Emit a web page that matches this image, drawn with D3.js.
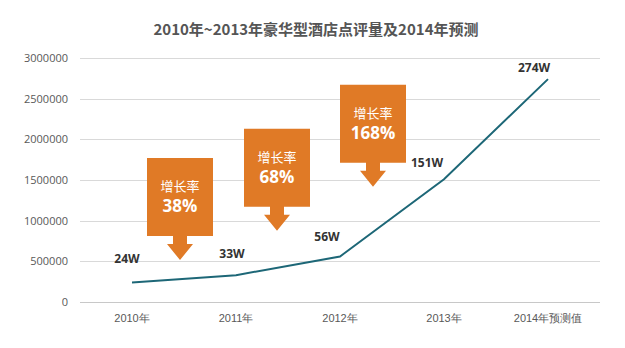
<!DOCTYPE html>
<html><head><meta charset="utf-8">
<script src="https://cdn.jsdelivr.net/npm/d3@7"></script>
<style>
body{margin:0;background:#fff;}
svg{display:block;font-family:"Noto Sans CJK SC","Open Sans",sans-serif;}
</style></head>
<body><svg id="c" width="625" height="348"></svg>
<script>
const title = "2010年~2013年豪华型酒店点评量及2014年预测";
const categories = ["2010年","2011年","2012年","2013年","2014年预测值"];
const values = [240000, 330000, 560000, 1510000, 2740000];
const valueLabels = ["24W","33W","56W","151W","274W"];
const yTicks = [0,500000,1000000,1500000,2000000,2500000,3000000];
const growthRates = ["38%","68%","168%"];
// label offsets (px) relative to point
const labelOffsets = [[-5,-24],[-4,-22],[-13,-20],[-17,-17],[-14,-12]];
// callout layout: x offset from category center, top value
const calloutX = [48, 41, 33];
const calloutTop = [1770000, 2130000, 2670000];

const svg = d3.select("#c");
const W=625,H=348;
const x = d3.scaleBand().domain(categories).range([80,600]);
const y = d3.scaleLinear().domain([0,3000000]).range([302,58]);
const cx = d => x(d)+x.bandwidth()/2;

svg.append("text").attr("x",316).attr("y",35).attr("text-anchor","middle")
  .attr("font-size",15).attr("font-weight","bold").attr("fill","#555").text(title);

// grid
svg.append("g").selectAll("line").data(yTicks).join("line")
  .attr("x1",80).attr("x2",600).attr("y1",d=>Math.round(y(d))+0.5).attr("y2",d=>Math.round(y(d))+0.5)
  .attr("stroke",d=>d===0?"#c8c8c8":"#d9d9d9").attr("stroke-width",1);

const yAxis = svg.append("g").attr("transform","translate(80,0)")
  .call(d3.axisLeft(y).tickValues(yTicks).tickFormat(d3.format("d")).tickSize(0).tickPadding(12));
yAxis.select(".domain").remove();
yAxis.selectAll("text").attr("font-size",11).attr("fill","#595959").attr("font-family","Open Sans, sans-serif");

const xAxis = svg.append("g").attr("transform","translate(0,302)")
  .call(d3.axisBottom(x).tickSize(0).tickPadding(12));
xAxis.select(".domain").remove();
xAxis.selectAll("text").attr("font-size",11).attr("fill","#595959");

// line
const pts = categories.map((c,i)=>[cx(c), y(values[i])]);
svg.append("path").attr("d", d3.line()(pts)).attr("fill","none")
  .attr("stroke","#1d6777").attr("stroke-width",2);

svg.append("g").selectAll("text").data(valueLabels).join("text")
  .attr("x",(d,i)=>pts[i][0]+labelOffsets[i][0]).attr("y",(d,i)=>pts[i][1]+labelOffsets[i][1]+5)
  .attr("text-anchor","middle").attr("font-size",12).attr("font-weight","bold")
  .attr("fill","#333").attr("font-family","Open Sans, sans-serif").text(d=>d);

// callouts
const orange = "#e07a26";
growthRates.forEach((g,i)=>{
  const ccx = cx(categories[i]) + calloutX[i];
  const top = y(calloutTop[i]);
  const bw=66,bh=78, sw=14, hw=26, sh=8, hh=16;
  const p = [
    [ccx-bw/2,top],[ccx+bw/2,top],[ccx+bw/2,top+bh],[ccx+sw/2,top+bh],[ccx+sw/2,top+bh+sh],
    [ccx+hw/2,top+bh+sh],[ccx,top+bh+sh+hh],[ccx-hw/2,top+bh+sh],[ccx-sw/2,top+bh+sh],
    [ccx-sw/2,top+bh],[ccx-bw/2,top+bh]
  ];
  svg.append("path").attr("d", d3.line()(p)+"Z").attr("fill",orange);
  svg.append("text").attr("x",ccx).attr("y",top+33).attr("text-anchor","middle")
    .attr("font-size",13).attr("fill","#fff").text("增长率");
  svg.append("text").attr("x",ccx).attr("y",top+54).attr("text-anchor","middle")
    .attr("font-size",17).attr("font-weight","bold").attr("fill","#fff")
    .attr("font-family","Open Sans, sans-serif").text(g);
});
</script></body></html>
